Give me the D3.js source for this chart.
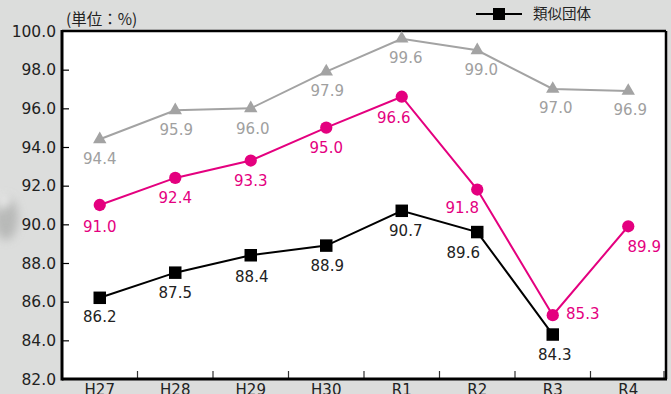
<!DOCTYPE html>
<html>
<head>
<meta charset="utf-8">
<script src="https://cdn.jsdelivr.net/npm/d3@7"></script>
<style>
  html, body { margin: 0; padding: 0; background: #dcdddc; }
  svg { display: block; }
</style>
</head>
<body>
<svg id="chart" width="671" height="394"></svg>
<script>
// Fiscal years on the x axis
const categories = ["H27", "H28", "H29", "H30", "R1", "R2", "R3", "R4"];
// Series values (%)
const graySeries  = [94.4, 95.9, 96.0, 97.9, 99.6, 99.0, 97.0, 96.9];
const pinkSeries  = [91.0, 92.4, 93.3, 95.0, 96.6, 91.8, 85.3, 89.9];
const similarOrgs = [86.2, 87.5, 88.4, 88.9, 90.7, 89.6, 84.3, null];
// Y axis ticks
const yTicks = [82, 84, 86, 88, 90, 92, 94, 96, 98, 100];
const unitLabel = "(単位：%)";
const legendLabel = "類似団体";

const W = 671, H = 394;
const plot = { left: 62, right: 666, top: 31, bottom: 379 };
const numFont = "'DejaVu Sans', 'Noto Sans', sans-serif";
const cjkFont = "'Noto Sans CJK JP', 'Noto Sans', sans-serif";

const svg = d3.select("#chart");

// soft shadow blob at the left edge
const defs = svg.append("defs");
const blur = defs.append("filter").attr("id", "soft").attr("x", "-50%").attr("y", "-50%").attr("width", "200%").attr("height", "200%");
blur.append("feGaussianBlur").attr("stdDeviation", 5);
svg.append("ellipse").attr("cx", 6).attr("cy", 218).attr("rx", 12).attr("ry", 22)
  .attr("fill", "#a9aaa9").attr("opacity", 0.7).attr("filter", "url(#soft)");
svg.append("path").attr("d", "M0,194 L12,199 L0,212 Z").attr("fill", "#ffffff")
  .attr("opacity", 0.9).attr("filter", "url(#soft)");

const x = d3.scaleBand().domain(categories).range([plot.left, plot.right]).padding(0);
const y = d3.scaleLinear().domain([82, 100]).range([plot.bottom, plot.top]);
const cx = c => x(c) + x.bandwidth() / 2;

// plot background
svg.append("rect")
  .attr("x", plot.left).attr("y", plot.top)
  .attr("width", plot.right - plot.left).attr("height", plot.bottom - plot.top)
  .attr("fill", "#ffffff");

// left axis: inward ticks + labels
const yAxis = d3.axisRight(y).tickValues(yTicks.filter(v => v > 82 && v < 100)).tickSize(7).tickFormat("");
svg.append("g").attr("transform", `translate(${plot.left},0)`).call(yAxis)
  .call(g => g.select(".domain").remove())
  .call(g => g.selectAll("line").attr("stroke", "#000").attr("stroke-width", 1.2));

svg.append("g").selectAll("text").data(yTicks).join("text")
  .attr("x", 56).attr("y", d => y(d) + 5.5)
  .attr("text-anchor", "end")
  .attr("font-family", numFont).attr("font-size", 15.5)
  .attr("fill", "#222")
  .text(d => d.toFixed(1));

// bottom axis: band-boundary ticks pointing up, labels at band centres
const boundaries = categories.slice(1).map(c => x(c)).concat([plot.right - 2]);
svg.append("g").selectAll("line").data(boundaries).join("line")
  .attr("x1", d => d).attr("x2", d => d)
  .attr("y1", plot.bottom).attr("y2", plot.bottom - 8)
  .attr("stroke", "#333").attr("stroke-width", 1.2);

svg.append("g").selectAll("text").data(categories).join("text")
  .attr("x", d => cx(d)).attr("y", 395)
  .attr("text-anchor", "middle")
  .attr("font-family", numFont).attr("font-size", 15)
  .attr("fill", "#222")
  .text(d => d);

// frame
svg.append("line").attr("x1", plot.left).attr("x2", plot.right).attr("y1", plot.top).attr("y2", plot.top)
  .attr("stroke", "#000").attr("stroke-width", 2.5);
svg.append("line").attr("x1", plot.right).attr("x2", plot.right).attr("y1", plot.top).attr("y2", plot.bottom)
  .attr("stroke", "#000").attr("stroke-width", 2.5);
svg.append("line").attr("x1", plot.left).attr("x2", plot.left).attr("y1", plot.top - 1).attr("y2", plot.bottom + 1.5)
  .attr("stroke", "#000").attr("stroke-width", 3);
svg.append("line").attr("x1", plot.left).attr("x2", plot.right + 1).attr("y1", plot.bottom).attr("y2", plot.bottom)
  .attr("stroke", "#000").attr("stroke-width", 3);

// unit caption
svg.append("text").attr("x", 66).attr("y", 25)
  .attr("font-family", cjkFont).attr("font-size", 15.5).attr("fill", "#222")
  .text(unitLabel);

// series
const series = [
  { values: graySeries, color: "#a3a3a3", labelColor: "#a0a0a0", symbol: d3.symbolTriangle, size: 78,
    offsets: [[0,19],[1,19],[2,20],[1,19],[4,19],[4,19],[3,18],[2,19]] },
  { values: similarOrgs, color: "#000000", labelColor: "#222222", symbol: d3.symbolSquare, size: 156,
    offsets: [[0,19],[0,20],[1,21],[1,20],[4,20],[-14,20],[2,20],[0,0]] },
  { values: pinkSeries, color: "#e4007f", labelColor: "#e4007f", symbol: d3.symbolCircle, size: 118,
    offsets: [[0,21],[0,20],[0,20],[0,20],[-8,21],[-15,18],[30,-2],[16,20]] }
];

const line = d3.line()
  .defined(d => d.v != null)
  .x(d => cx(d.c)).y(d => y(d.v));

series.forEach(s => {
  const pts = categories.map((c, i) => ({ c, v: s.values[i], off: s.offsets[i] }));
  const g = svg.append("g");
  g.append("path").datum(pts).attr("d", line)
    .attr("fill", "none").attr("stroke", s.color).attr("stroke-width", 2);
  const valid = pts.filter(d => d.v != null);
  g.selectAll("path.mark").data(valid).join("path").attr("class", "mark")
    .attr("d", d3.symbol().type(s.symbol).size(s.size))
    .attr("transform", d => `translate(${cx(d.c)},${y(d.v)})`)
    .attr("fill", s.color);
  g.selectAll("text").data(valid).join("text")
    .attr("x", d => cx(d.c) + d.off[0])
    .attr("y", d => y(d.v) + d.off[1] + 5.5)
    .attr("text-anchor", "middle")
    .attr("font-family", numFont).attr("font-size", 15)
    .attr("fill", s.labelColor)
    .text(d => d.v.toFixed(1));
});

// legend
const lg = svg.append("g");
lg.append("line").attr("x1", 476).attr("x2", 522).attr("y1", 14).attr("y2", 14)
  .attr("stroke", "#000").attr("stroke-width", 2);
lg.append("path").attr("d", d3.symbol().type(d3.symbolSquare).size(144))
  .attr("transform", "translate(499,14)").attr("fill", "#000");
lg.append("text").attr("x", 533).attr("y", 19)
  .attr("font-family", cjkFont).attr("font-size", 14.5).attr("fill", "#222")
  .text(legendLabel);
</script>
</body>
</html>
